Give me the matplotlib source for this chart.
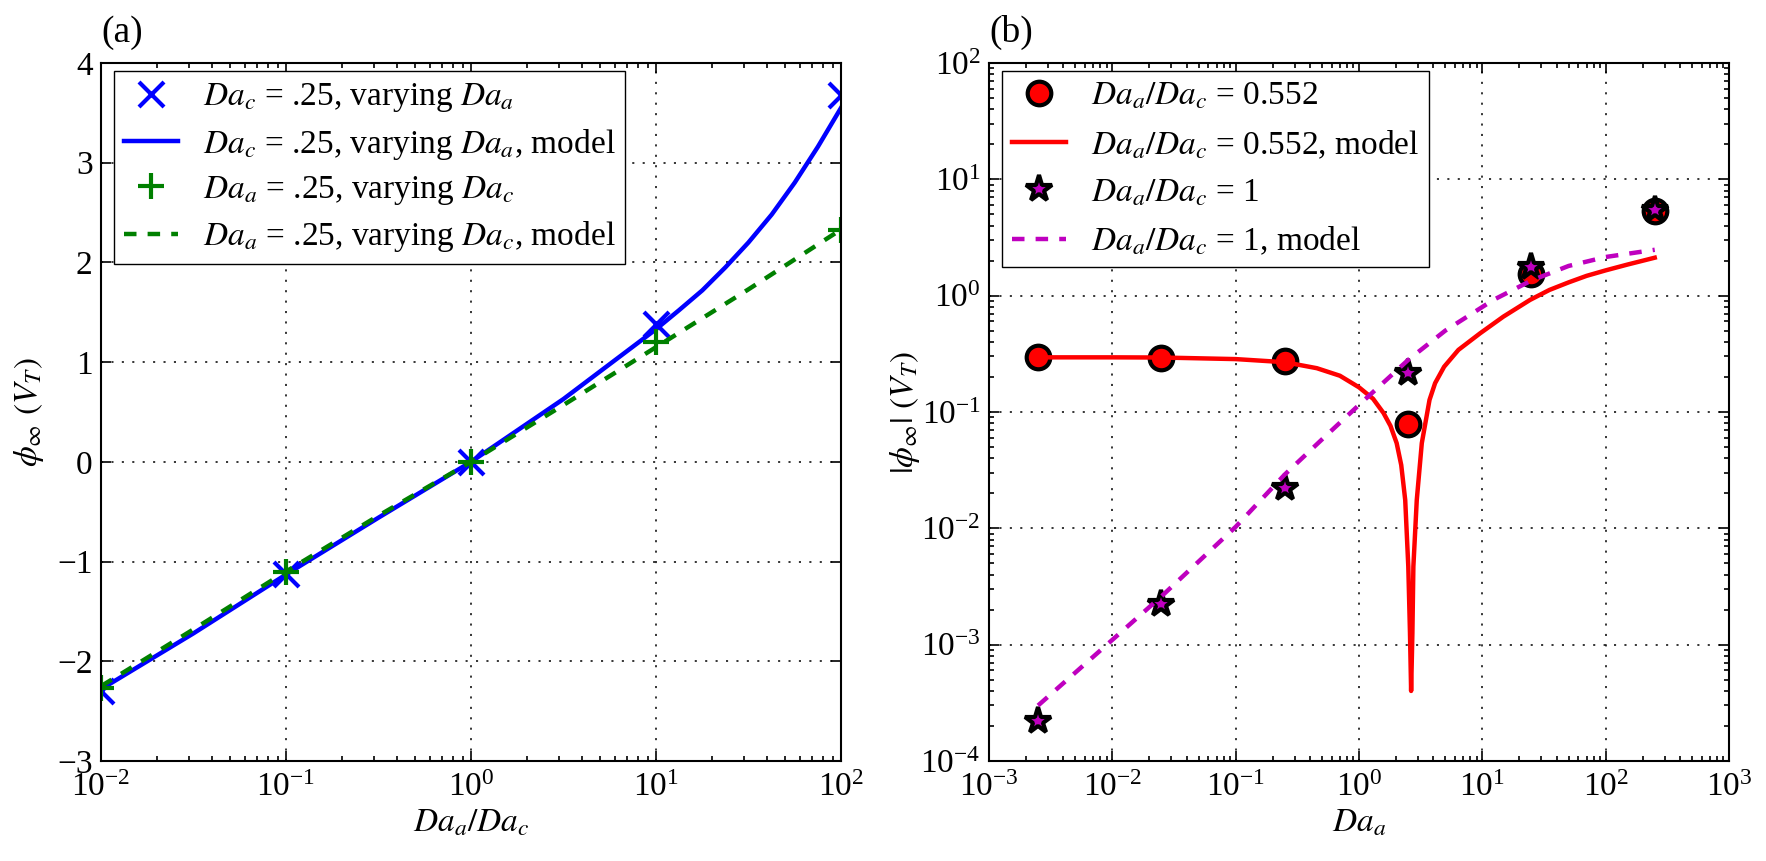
import matplotlib
matplotlib.use("Agg")
import matplotlib.pyplot as plt

plt.rcParams['font.family'] = 'serif'
plt.rcParams['font.serif'] = ['Liberation Serif', 'DejaVu Serif']
plt.rcParams['mathtext.fontset'] = 'stix'
plt.rcParams['lines.scale_dashes'] = False
plt.rcParams['axes.unicode_minus'] = True

# ---------------- data: panel (a) ----------------
ratio_pts = [1e-2, 1e-1, 1e0, 1e1, 1e2]
phi_vary_Daa = [-2.30, -1.12, 0.0, 1.38, 3.68]
phi_vary_Dac = [-2.27, -1.10, 0.0, 1.20, 2.33]

ratio_model_a = [0.01, 0.0316, 0.1, 0.316, 1.0, 3.16, 10.0, 13.3, 17.8, 23.7, 31.6,
                 42.2, 56.2, 75.0, 100.0]
phi_model_a = [-2.28, -1.72, -1.13, -0.56, 0.0, 0.63, 1.33, 1.52, 1.72, 1.95, 2.20,
               2.48, 2.80, 3.16, 3.55]
ratio_model_c = [0.01, 0.0316, 0.1, 0.316, 1.0, 3.16, 10.0, 31.6, 100.0]
phi_model_c = [-2.25, -1.68, -1.10, -0.54, 0.0, 0.57, 1.15, 1.73, 2.33]

# ---------------- data: panel (b) ----------------
Daa_pts = [2.5e-3, 2.5e-2, 0.25, 2.5, 25.0, 250.0]
phi_0552 = [0.295, 0.29, 0.275, 0.079, 1.55, 5.3]
phi_1 = [2.2e-4, 2.25e-3, 0.0224, 0.217, 1.75, 5.4]

Daa_model_0552 = [2.5e-3, 0.01, 0.025, 0.1, 0.25, 0.455, 0.7, 1.0, 1.3, 1.58, 1.8, 2.02,
                  2.2, 2.37, 2.51, 2.59, 2.646, 2.71, 2.76, 2.94, 3.23, 3.73, 4.14,
                  4.9, 6.4, 9.6, 14.8, 24.4, 35.0, 50.0, 70.0, 100.0, 150.0, 250.0]
phi_model_0552 = [0.295, 0.295, 0.294, 0.285, 0.268, 0.238, 0.205, 0.163, 0.13, 0.098,
                  0.076, 0.054, 0.035, 0.0175, 4.7e-3, 1.26e-3, 4.0e-4, 1.26e-3, 4.7e-3,
                  0.0175, 0.054, 0.127, 0.177, 0.245, 0.342, 0.475, 0.66, 0.92, 1.12,
                  1.3, 1.48, 1.65, 1.85, 2.12]
Daa_model_1 = [2.5e-3, 0.01, 0.025, 0.1, 0.25, 0.5, 1.0, 2.5, 5.0, 12.3, 25.0, 50.0,
               100.0, 250.0]
phi_model_1 = [3.0e-4, 1.1e-3, 2.6e-3, 0.0103, 0.029, 0.058, 0.115, 0.28, 0.5, 0.92,
               1.35, 1.8, 2.15, 2.48]

W, H = 1766, 861
fig = plt.figure(figsize=(W / 100, H / 100), dpi=100)
fig.patch.set_facecolor('white')
ax1 = fig.add_axes([101 / W, 100 / H, 740 / W, 698 / H])
ax2 = fig.add_axes([989 / W, 100 / H, 740 / W, 698 / H])

FS_TICK = 24
FS_LAB = 24
FS_LEG = 24
LW = 3.2
DASH = (0, (9, 8))

# panel (a)
ax1.plot(ratio_pts, phi_vary_Daa, 'x', color='b', ms=18, mew=3,
         label=r'$Da_c$ = .25, varying $Da_a$')
ax1.plot(ratio_model_a, phi_model_a, '-', color='b', lw=LW,
         label=r'$Da_c$ = .25, varying $Da_a$, model')
ax1.plot(ratio_pts, phi_vary_Dac, '+', color='g', ms=19, mew=3,
         label=r'$Da_a$ = .25, varying $Da_c$')
ax1.plot(ratio_model_c, phi_model_c, color='g', lw=LW, linestyle=DASH,
         label=r'$Da_a$ = .25, varying $Da_c$, model')
ax1.set_xscale('log')
ax1.set_xlim(1e-2, 1e2)
ax1.set_ylim(-3, 4)
ax1.set_yticks(range(-3, 5))
ax1.set_xlabel(r'$Da_a/Da_c$', fontsize=FS_LAB)
ax1.set_ylabel(r'$\phi_\infty$ $(V_T)$', fontsize=FS_LAB)

# panel (b)
ax2.plot(Daa_pts, phi_0552, 'o', mfc='r', mec='k', ms=17, mew=3,
         label=r'$Da_a/Da_c$ = 0.552')
ax2.plot(Daa_model_0552, phi_model_0552, '-', color='r', lw=LW,
         label=r'$Da_a/Da_c$ = 0.552, model')
ax2.plot(Daa_pts, phi_1, '*', mfc='m', mec='k', ms=20, mew=3,
         label=r'$Da_a/Da_c$ = 1')
ax2.plot(Daa_model_1, phi_model_1, color='m', lw=LW, linestyle=DASH,
         label=r'$Da_a/Da_c$ = 1, model')
ax2.set_xscale('log')
ax2.set_yscale('log')
ax2.set_xlim(1e-3, 1e3)
ax2.set_ylim(1e-4, 1e2)
ax2.set_xlabel(r'$Da_a$', fontsize=FS_LAB)
ax2.set_ylabel(r'$|\phi_\infty|$ $(V_T)$', fontsize=FS_LAB)

for ax, lsp in ((ax1, 0.37), (ax2, 0.5)):
    ax.grid(True, which='major', color='k', linestyle=(0, (1.5, 6)), lw=1.1)
    ax.tick_params(which='both', direction='in', top=True, right=True,
                   labelsize=FS_TICK, width=1.2)
    ax.tick_params(which='major', length=7)
    ax.tick_params(which='minor', length=3.5)
    ax.tick_params(axis='x', pad=8)
    ax.tick_params(axis='y', pad=6)
    for s in ax.spines.values():
        s.set_linewidth(1.5)
    leg = ax.legend(loc='upper left', bbox_to_anchor=(0.018, 0.988), borderaxespad=0,
                    fontsize=FS_LEG, numpoints=1, fancybox=False, framealpha=1,
                    edgecolor='k', handlelength=1.6, handletextpad=0.75,
                    labelspacing=lsp, borderpad=0.3)
    leg.get_frame().set_linewidth(1.0)

ax1.yaxis.set_label_coords(-0.075, 0.5)
ax2.yaxis.set_label_coords(-0.091, 0.5)

fig.text(101 / W, 1 - 50 / H, '(a)', fontsize=27, ha='left', va='bottom')
fig.text(989 / W, 1 - 50 / H, '(b)', fontsize=27, ha='left', va='bottom')

fig.savefig('out.png', dpi=100, facecolor='white')
